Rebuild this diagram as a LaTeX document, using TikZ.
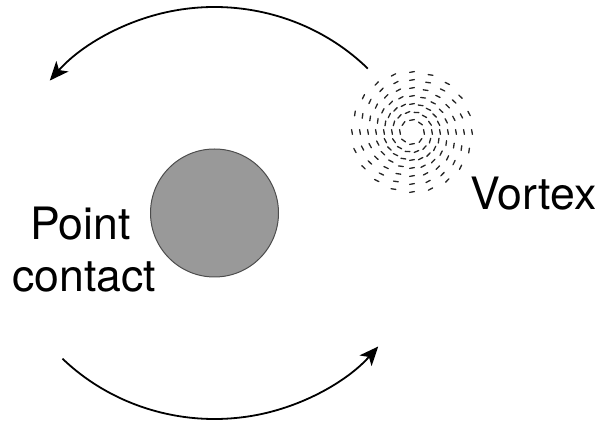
\documentclass[tikz,border=0pt]{standalone}
\usepackage{fontspec}
\setmainfont{TeX Gyre Heros}
\usetikzlibrary{arrows.meta,calc}
\definecolor{discgray}{RGB}{153,153,153}

\begin{document}
\begin{tikzpicture}[x=1pt, y=1pt,
    label/.style={font=\fontsize{44.6}{52}\selectfont, inner sep=0pt, anchor=base},
    disc/.style={circle, draw=black!70, line width=1pt, fill=discgray, minimum size=128pt, inner sep=0pt},
    flow/.style={line width=1.8pt, -{Stealth[length=19pt, width=16pt, inset=5pt]}},
    vdash/.style={line width=1.3pt, line cap=round, black!85}
]
\useasboundingbox (0,0) rectangle (601,425);

% Point contact
\node (pc) [disc] at (214.5,212) {};
\node (point) [label] at (80.5,185) {Point};
\node (contact) [label] at (84.5,133) {contact};

% Vortex: short dashes on rings, lined up in spokes
\coordinate (vc) at (412,293);
\node (vortex) [label] at (533.5,215) {Vortex};
\begin{scope}[shift={(vc)}]
\foreach \r/\n in {12/8, 20/14, 28/20, 36/20, 44/20, 52/20, 60/20} {
    \foreach \i in {1,...,\n} {
        \pgfmathsetmacro\a{360*\i/\n}
        \draw[vdash] (\a:\r) ++(\a+100:2.4) -- ++(\a-80:4.8);
    }
}
\end{scope}

% Flow around the contact
\coordinate (topstart) at ($(pc.center)+(44.5:215pt and 206pt)$);
\coordinate (botstart) at ($(pc.center)+(225:215pt and 206pt)$);
\draw[flow] (topstart) arc[start angle=44.5, end angle=140, x radius=215pt, y radius=206pt];
\draw[flow] (botstart) arc[start angle=225, end angle=319.6, x radius=215pt, y radius=206pt];

\end{tikzpicture}
\end{document}
